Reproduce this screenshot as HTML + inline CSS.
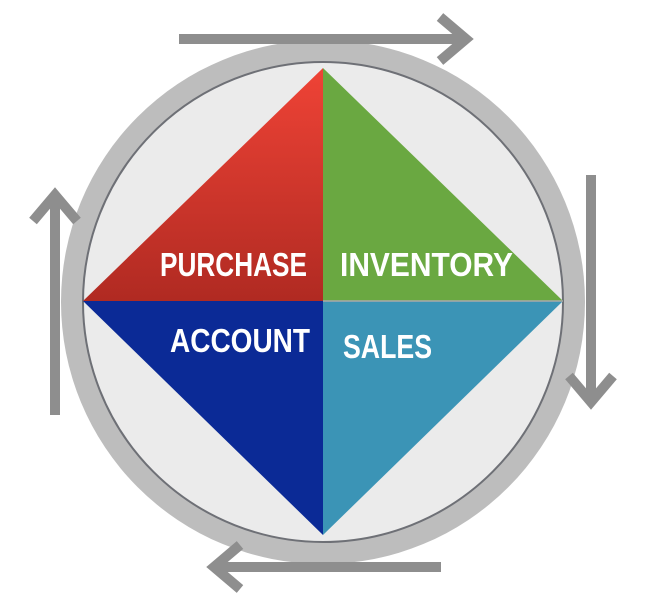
<!DOCTYPE html>
<html><head><style>html,body{margin:0;padding:0;background:#fff}svg{display:block}</style></head>
<body>
<svg width="647" height="613" viewBox="0 0 647 613" xmlns="http://www.w3.org/2000/svg">
<defs>
<linearGradient id="r" x1="0" y1="0" x2="0" y2="1"><stop offset="0" stop-color="#ef4336"/><stop offset="1" stop-color="#b02a22"/></linearGradient>
</defs>
<circle cx="323" cy="302" r="262" fill="#bdbdbd"/>
<circle cx="323" cy="302" r="240" fill="#ebebeb" stroke="#6e7076" stroke-width="2"/>
<polygon points="323,68 83,301 323,301" fill="url(#r)"/>
<polygon points="323,68 563,301 323,301" fill="#6aa841"/>
<polygon points="83,301 323,301 323,535" fill="#0b2a96"/>
<polygon points="323,301 563,301 323,535" fill="#3b94b6"/>
<line x1="323" y1="301" x2="563" y2="301" stroke="#aaa" stroke-width="1.5"/>
<g fill="#fff" font-family="Liberation Sans, sans-serif" font-weight="bold" font-size="33">
<text x="160" y="276" textLength="147" lengthAdjust="spacingAndGlyphs">PURCHASE</text>
<text x="340" y="276" textLength="173" lengthAdjust="spacingAndGlyphs">INVENTORY</text>
<text x="170" y="352" textLength="140" lengthAdjust="spacingAndGlyphs">ACCOUNT</text>
<text x="343" y="358" textLength="89" lengthAdjust="spacingAndGlyphs">SALES</text>
</g>
<g stroke="#8e8e8e" stroke-width="10" fill="none">
<line x1="179" y1="39" x2="466" y2="39"/>
<polyline points="440,17 466,39 440,61"/>
<line x1="591" y1="175" x2="591" y2="402"/>
<polyline points="569,376 591,402 613,376"/>
<line x1="441" y1="567" x2="214" y2="567"/>
<polyline points="240,545 214,567 240,589"/>
<line x1="55" y1="415" x2="55" y2="195"/>
<polyline points="33,221 55,195 77,221"/>
</g>
</svg>
</body></html>
